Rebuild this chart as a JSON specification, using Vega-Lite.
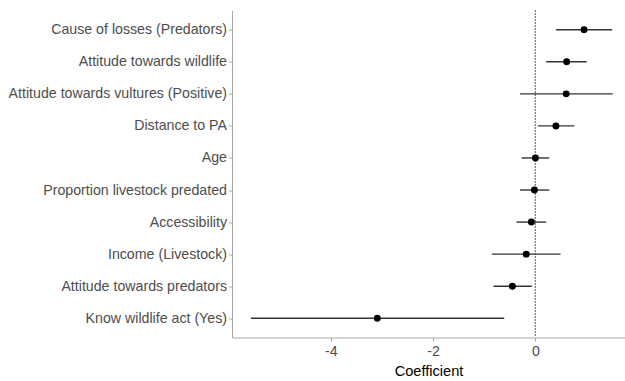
{
  "$schema": "https://vega.github.io/schema/vega-lite/v6.json",
  "width": 393,
  "height": 327,
  "autosize": {"type": "none"},
  "padding": {"left": 232, "top": 10.5, "right": 0, "bottom": 43.5},
  "background": "white",
  "config": {
    "view": {"stroke": null},
    "font": "Liberation Sans",
    "axis": {
      "domainColor": "#a6a6a6",
      "domainWidth": 1,
      "tickColor": "#a6a6a6",
      "tickSize": 3.5,
      "labelColor": "#4d4d4d",
      "labelFontSize": 14.2,
      "labelFont": "Liberation Sans",
      "labelLimit": 400,
      "titleFont": "Liberation Sans",
      "titleFontSize": 14.6,
      "titleFontWeight": "normal",
      "titleColor": "#000000",
      "grid": false
    }
  },
  "data": {
    "values": [
      {"term": "Cause of losses (Predators)", "est": 0.95, "lo": 0.40, "hi": 1.50},
      {"term": "Attitude towards wildlife", "est": 0.61, "lo": 0.21, "hi": 1.00},
      {"term": "Attitude towards vultures (Positive)", "est": 0.60, "lo": -0.30, "hi": 1.51},
      {"term": "Distance to PA", "est": 0.40, "lo": 0.05, "hi": 0.76},
      {"term": "Age", "est": 0.00, "lo": -0.27, "hi": 0.27},
      {"term": "Proportion livestock predated", "est": -0.02, "lo": -0.30, "hi": 0.27},
      {"term": "Accessibility", "est": -0.08, "lo": -0.37, "hi": 0.21},
      {"term": "Income (Livestock)", "est": -0.18, "lo": -0.85, "hi": 0.49},
      {"term": "Attitude towards predators", "est": -0.45, "lo": -0.82, "hi": -0.07},
      {"term": "Know wildlife act (Yes)", "est": -3.09, "lo": -5.56, "hi": -0.61}
    ]
  },
  "encoding": {
    "y": {
      "field": "term",
      "type": "ordinal",
      "sort": null,
      "scale": {"type": "point", "padding": 0.6},
      "axis": {"title": null, "labelPadding": 2}
    }
  },
  "layer": [
    {
      "mark": {"type": "rule", "strokeDash": [1, 2], "color": "#7f7f7f", "strokeWidth": 1},
      "encoding": {"x": {"datum": 0, "type": "quantitative"}, "y": null}
    },
    {
      "mark": {"type": "rule", "color": "#333333", "strokeWidth": 1.4},
      "encoding": {
        "x": {
          "field": "lo",
          "type": "quantitative",
          "scale": {"domain": [-5.93, 1.75], "nice": false, "zero": false},
          "axis": {"title": "Coefficient", "values": [-4, -2, 0], "labelExpr": "replace(datum.label, '\u2212', '-')", "labelPadding": 3, "titlePadding": 5}
        },
        "x2": {"field": "hi"}
      }
    },
    {
      "mark": {"type": "point", "filled": true, "color": "#000000", "opacity": 1, "size": 48},
      "encoding": {"x": {"field": "est", "type": "quantitative"}}
    }
  ]
}
